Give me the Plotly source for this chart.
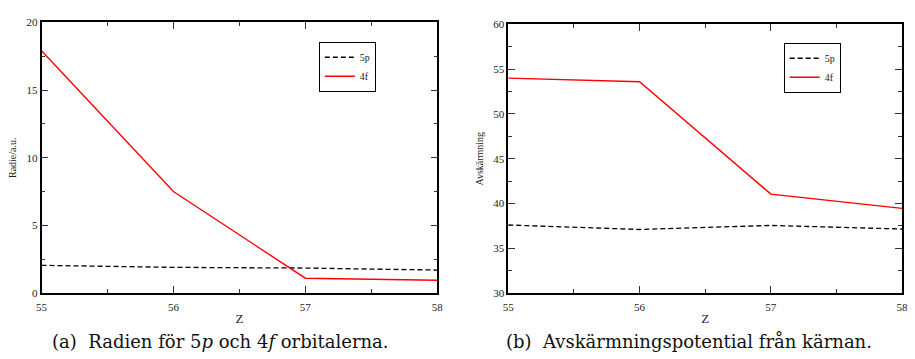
import plotly.graph_objects as go

# Nuclear charge Z
z_values = [55, 56, 57, 58]

# Orbital radii (a.u.)
radius_5p = [2.05, 1.9, 1.85, 1.7]
radius_4f = [17.9, 7.5, 1.1, 0.95]

# Screening potential from the nucleus
screen_5p = [37.6, 37.1, 37.55, 37.15]
screen_4f = [54.0, 53.6, 41.05, 39.45]

W, H = 915, 359
SERIF = "Liberation Serif"
CAPTION_FONT = "DejaVu Serif"


def px_x(p):
    return p / W


def px_y(p):
    return 1 - p / H


fig = go.Figure()

red = dict(color="#ff0000", width=1.4)
dash = dict(color="#000000", width=1.3, dash="5px,3px")

fig.add_trace(go.Scatter(x=z_values, y=radius_5p, mode="lines", name="5p",
                         line=dash, xaxis="x", yaxis="y", legend="legend"))
fig.add_trace(go.Scatter(x=z_values, y=radius_4f, mode="lines", name="4f",
                         line=red, xaxis="x", yaxis="y", legend="legend"))
fig.add_trace(go.Scatter(x=z_values, y=screen_5p, mode="lines", name="5p",
                         line=dash, xaxis="x2", yaxis="y2", legend="legend2"))
fig.add_trace(go.Scatter(x=z_values, y=screen_4f, mode="lines", name="4f",
                         line=red, xaxis="x2", yaxis="y2", legend="legend2"))

axis_common = dict(
    showline=True, linecolor="black", linewidth=1.5, mirror="ticks",
    ticks="inside", ticklen=7, tickwidth=1, tickcolor="#333333",
    showgrid=False, zeroline=False,
    tickfont=dict(family=SERIF, size=11, color="#222222"),
)
minor_common = dict(ticks="inside", ticklen=4, tickwidth=1, tickcolor="#333333", showgrid=False)

xa = dict(axis_common, range=[55, 58], tick0=55, dtick=1,
          minor=dict(minor_common, dtick=0.5),
          title=dict(text="Z", font=dict(family=SERIF, size=13, color="#222222"), standoff=2))

legend_style = dict(xanchor="left", yanchor="top",
                    bordercolor="black", borderwidth=1, bgcolor="white",
                    font=dict(family=SERIF, size=10, color="#222222"),
                    itemwidth=30, tracegroupgap=0)

fig.update_layout(
    width=W, height=H,
    margin=dict(l=0, r=0, t=0, b=0),
    paper_bgcolor="white", plot_bgcolor="white",
    xaxis=dict(xa, domain=[px_x(36), px_x(437)], anchor="y", ticklabelstandoff=3),
    yaxis=dict(axis_common, range=[0, 20], tick0=0, dtick=5,
               minor=dict(minor_common, dtick=2.5),
               domain=[px_y(297), px_y(17)], anchor="x",
               title=dict(text="Radie/a.u.", font=dict(family=SERIF, size=10, color="#222222"), standoff=8)),
    xaxis2=dict(xa, domain=[px_x(509), px_x(908)], anchor="y2", ticklabelstandoff=3),
    yaxis2=dict(axis_common, range=[30, 60], tick0=30, dtick=5,
                minor=dict(minor_common, dtick=2.5),
                domain=[px_y(297), px_y(19)], anchor="x2",
                title=dict(text="Avskärmning", font=dict(family=SERIF, size=10, color="#222222"), standoff=8)),
    legend=dict(legend_style, x=px_x(317), y=px_y(37)),
    legend2=dict(legend_style, x=px_x(788), y=px_y(38)),
    annotations=[
        dict(text="(a)  Radien för 5<i>p</i> och 4<i>f</i> orbitalerna.",
             x=px_x(217), y=px_y(347), xref="paper", yref="paper",
             xanchor="center", yanchor="middle",
             showarrow=False, font=dict(family=CAPTION_FONT, size=18, color="#111111")),
        dict(text="(b)  Avskärmningspotential från kärnan.",
             x=px_x(692), y=px_y(347), xref="paper", yref="paper",
             xanchor="center", yanchor="middle",
             showarrow=False, font=dict(family=CAPTION_FONT, size=18, color="#111111")),
    ],
)

fig.write_html("out.html")
